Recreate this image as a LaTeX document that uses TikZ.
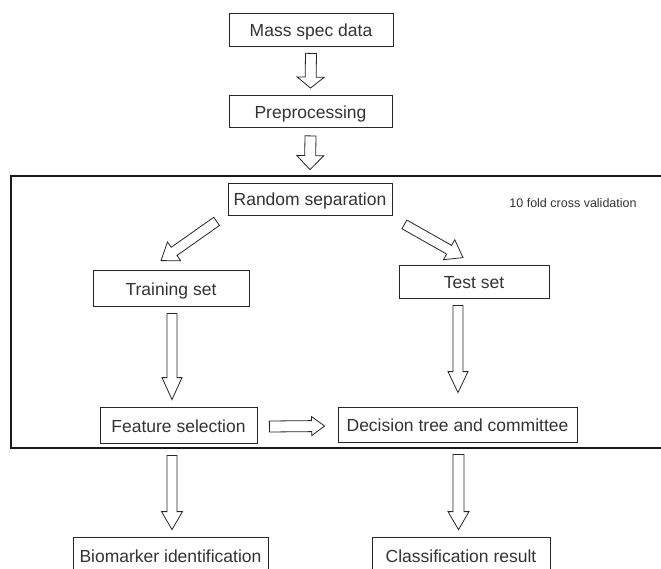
\documentclass[tikz,border=0pt]{standalone}
\usepackage{fontspec}
\setmainfont{Liberation Sans}
\usetikzlibrary{calc}
\newcommand\blkarrow[5]{%
  \coordinate (bah) at ($(#2)!#5!(#1)$);
  \draw[blk] ($(#1)!#3!90:(#2)$) -- ($(bah)!#3!90:(#2)$) -- ($(bah)!#4!90:(#2)$) -- (#2)
    -- ($(bah)!#4!-90:(#2)$) -- ($(bah)!#3!-90:(#2)$) -- ($(#1)!#3!-90:(#2)$) -- cycle;
}
\begin{document}
\begin{tikzpicture}[x=1pt,y=-1pt,
  box/.style={draw=black!85, line width=0.8pt, fill=white, inner sep=0pt,
    text=black!80, text height=16pt, text depth=2pt,
    font=\fontsize{17.5}{20}\selectfont},
  blk/.style={draw=black!85, line width=0.8pt, fill=white, line join=miter},
  frame/.style={draw=black!90, line width=1.1pt},
  note/.style={font=\fontsize{12.5}{15}\selectfont, text=black!80, inner sep=0pt}]
\useasboundingbox (0,0) rectangle (661,569);
\fill[white] (0,0) rectangle (661,569);
\clip (0,0) rectangle (661,569);
% outer frame
\draw[frame] (11,176) rectangle (668,448);
% nodes
\node[box, minimum width=164pt, minimum height=33pt] (ms) at (311,29.5) {Mass spec data};
\node[box, minimum width=163pt, minimum height=32pt] (pre) at (310.5,111.5) {Preprocessing};
\node[box, minimum width=164pt, minimum height=32pt] (rs) at (310,199) {Random separation};
\node[note] (cv) at (573,203) {10 fold cross validation};
\node[box, minimum width=156pt, minimum height=36pt] (tr) at (171,288) {Training set};
\node[box, minimum width=150pt, minimum height=33pt] (ts) at (474,281.5) {Test set};
\node[box, minimum width=157pt, minimum height=36pt] (fs) at (178.5,425) {Feature selection};
\node[box, minimum width=239pt, minimum height=35pt] (dt) at (457.5,424.5) {Decision tree and committee};
\node[box, minimum width=195pt, minimum height=36pt] (bi) at (170.5,555) {Biomarker identification};
\node[box, minimum width=178pt, minimum height=36pt] (cr) at (461,555) {Classification result};
% connector end points
\coordinate (a1s) at ($(ms.south)+(0,7)$);
\coordinate (a1e) at ($(pre.north)+(0,-7)$);
\coordinate (a2s) at ($(pre.south)+(0,8)$);
\coordinate (a2e) at ($(rs.north)+(0,-13)$);
\coordinate (a3s) at ($(rs.south west)+(-11,6)$);
\coordinate (a3e) at ($(tr.north)+(-10,-9)$);
\coordinate (a4s) at ($(rs.south east)+(12,9)$);
\coordinate (a4e) at ($(ts.north)+(-11,-7)$);
\coordinate (a5s) at ($(tr.south)+(1,7)$);
\coordinate (a5e) at ($(tr.south |- fs.north)+(1,-7)$);
\coordinate (a6s) at ($(dt.north |- ts.south)+(0.5,7)$);
\coordinate (a6e) at ($(dt.north)+(0.5,-14)$);
\coordinate (a7s) at ($(fs.east)+(12,1.5)$);
\coordinate (a7e) at ($(dt.west)+(-13,1.5)$);
\coordinate (a8s) at ($(bi.north |- fs.south)+(1.5,12)$);
\coordinate (a8e) at ($(bi.north)+(1.5,-7)$);
\coordinate (a9s) at ($(dt.south)+(1,12)$);
\coordinate (a9e) at ($(dt.south |- cr.north)+(1,-7)$);
% block arrows
\blkarrow{a1s}{a1e}{5.5pt}{13.5pt}{11pt}
\blkarrow{a2s}{a2e}{5.5pt}{13.5pt}{14pt}
\blkarrow{a3s}{a3e}{5pt}{11.5pt}{16pt}
\blkarrow{a4s}{a4e}{5pt}{11.5pt}{16pt}
\blkarrow{a5s}{a5e}{5pt}{10pt}{22pt}
\blkarrow{a6s}{a6e}{5pt}{10pt}{21pt}
\blkarrow{a7s}{a7e}{5.5pt}{9.5pt}{13pt}
\blkarrow{a8s}{a8e}{5pt}{10.5pt}{18pt}
\blkarrow{a9s}{a9e}{5.5pt}{10.5pt}{18pt}
\end{tikzpicture}
\end{document}
